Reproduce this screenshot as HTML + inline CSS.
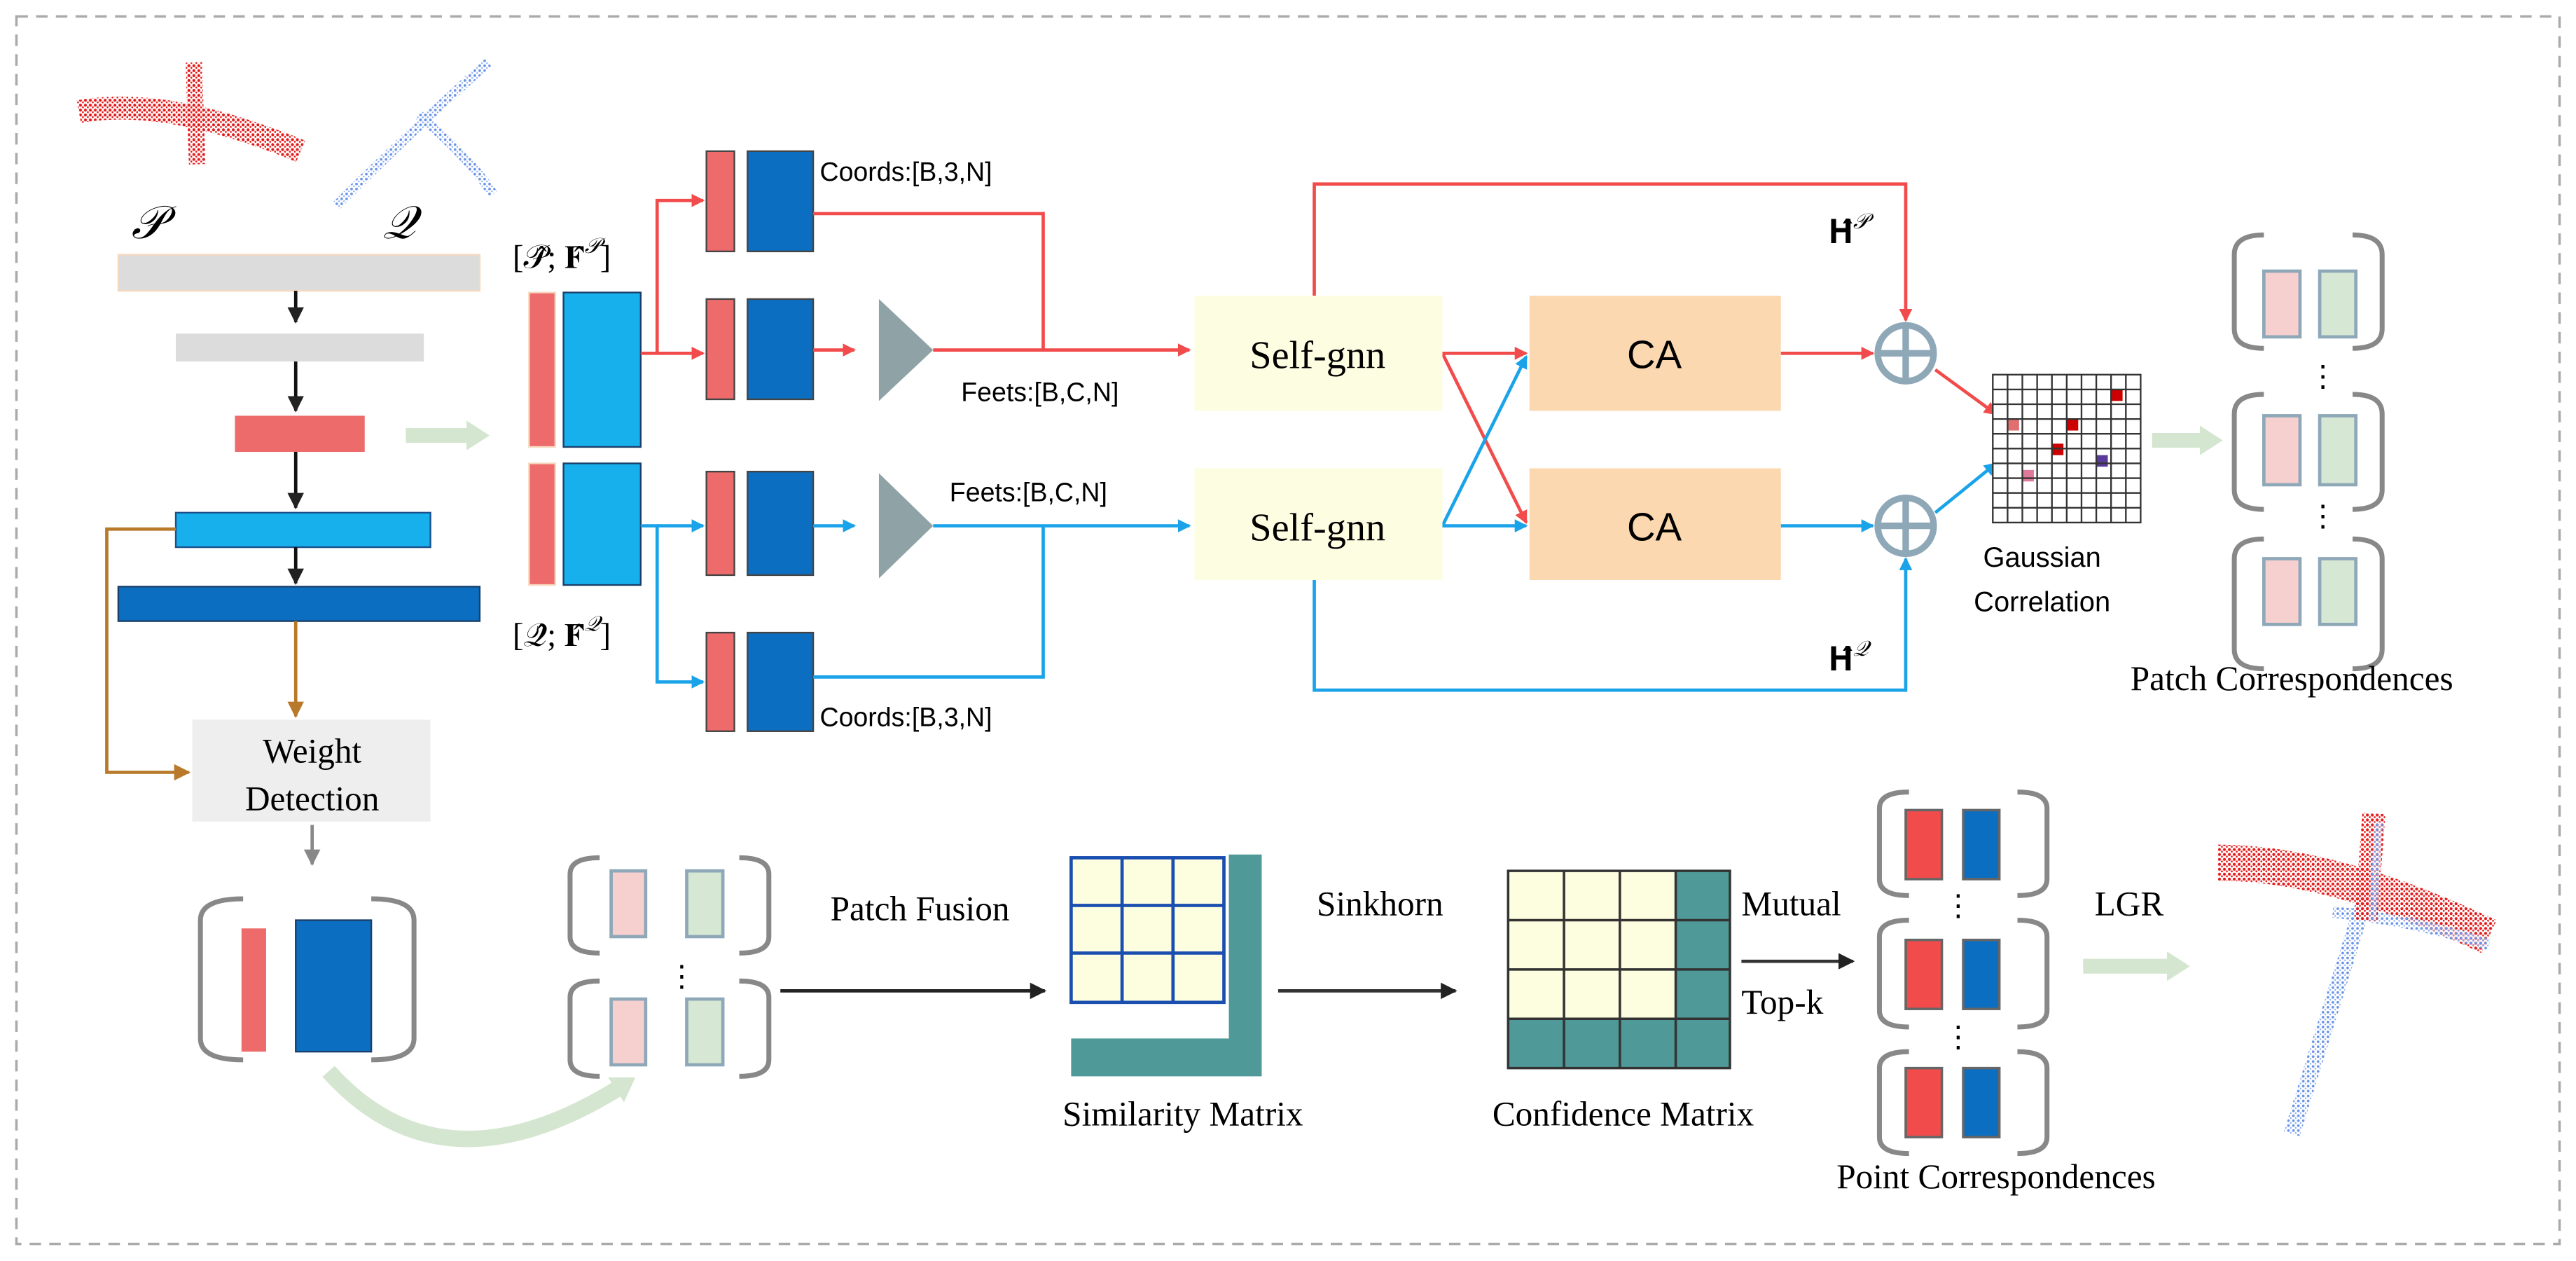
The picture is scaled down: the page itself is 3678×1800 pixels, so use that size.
<!DOCTYPE html>
<html><head><meta charset="utf-8"><style>
html,body{margin:0;padding:0;background:#fff;}
svg{display:block;}
.serif{font-family:"Liberation Serif",serif;}
.sans{font-family:"Liberation Sans",sans-serif;}
</style></head><body>
<svg width="3678" height="1800" viewBox="0 0 1568 767.4" preserveAspectRatio="none" xmlns="http://www.w3.org/2000/svg">
<defs>
<marker id="ar" markerWidth="8" markerHeight="8" refX="7" refY="4" orient="auto" markerUnits="userSpaceOnUse"><path d="M0,0 L8,4 L0,8 z" fill="#f24b4b"/></marker>
<marker id="ab" markerWidth="8" markerHeight="8" refX="7" refY="4" orient="auto" markerUnits="userSpaceOnUse"><path d="M0,0 L8,4 L0,8 z" fill="#1aa3e8"/></marker>
<marker id="ak" markerWidth="10" markerHeight="10" refX="9" refY="5" orient="auto" markerUnits="userSpaceOnUse"><path d="M0,0 L10,5 L0,10 z" fill="#222"/></marker>
<marker id="ag" markerWidth="10" markerHeight="10" refX="9" refY="5" orient="auto" markerUnits="userSpaceOnUse"><path d="M0,0 L10,5 L0,10 z" fill="#888"/></marker>
<marker id="ao" markerWidth="10" markerHeight="10" refX="9" refY="5" orient="auto" markerUnits="userSpaceOnUse"><path d="M0,0 L10,5 L0,10 z" fill="#b87a2a"/></marker>
<marker id="agr" markerWidth="14" markerHeight="18" refX="6" refY="9" orient="auto" markerUnits="userSpaceOnUse"><path d="M0,0 L14,9 L0,18 z" fill="#d4e6cf"/></marker>
<pattern id="pr" width="3" height="3" patternUnits="userSpaceOnUse"><circle cx="1" cy="1" r="0.9" fill="#e31a1a"/><circle cx="2.5" cy="2.3" r="0.6" fill="#e31a1a"/></pattern>
<pattern id="pb" width="3" height="3" patternUnits="userSpaceOnUse"><circle cx="1" cy="1" r="0.8" fill="#6a95e8"/><circle cx="2.4" cy="2.4" r="0.5" fill="#8aaaf0"/></pattern>
</defs>
<rect x="10" y="10" width="1548" height="747" fill="none" stroke="#aaa" stroke-width="1.5" stroke-dasharray="7 5"/>

<!-- point clouds -->
<g fill="none">
<path d="M48,68 Q100,58 183,92" stroke="url(#pr)" stroke-width="14"/>
<path d="M118,38 L120,100" stroke="url(#pr)" stroke-width="10"/>
<path d="M205,125 Q250,80 297,38" stroke="url(#pb)" stroke-width="6"/>
<path d="M255,70 Q285,95 300,118" stroke="url(#pb)" stroke-width="6"/>
</g>
<text x="80" y="145" class="serif" font-size="28" font-style="italic">𝒫</text>
<text x="233" y="145" class="serif" font-size="28" font-style="italic">𝒬</text>

<!-- left column -->
<rect x="72" y="155" width="220" height="22" fill="#dcdcdc" stroke="#f5d9c0"/>
<rect x="107" y="203" width="151" height="17" fill="#dcdcdc"/>
<rect x="143" y="253" width="79" height="22" fill="#ee6b6b"/>
<rect x="107" y="312" width="155" height="21" fill="#17b0ec" stroke="#1a4f8a"/>
<rect x="72" y="357" width="220" height="21" fill="#0b6ec0" stroke="#1a3f6a"/>
<g stroke="#111" stroke-width="2"><line x1="180" y1="177" x2="180" y2="196" marker-end="url(#ak)"/><line x1="180" y1="220" x2="180" y2="250" marker-end="url(#ak)"/><line x1="180" y1="275" x2="180" y2="309" marker-end="url(#ak)"/><line x1="180" y1="333" x2="180" y2="355" marker-end="url(#ak)"/></g>
<g stroke="#b87a2a" stroke-width="2" fill="none"><line x1="180" y1="378" x2="180" y2="436" marker-end="url(#ao)"/><path d="M107,322 H65 V470 H115" marker-end="url(#ao)"/></g>
<rect x="117" y="438" width="145" height="62" fill="#eeeeee"/>
<text x="190" y="464" class="serif" font-size="21" text-anchor="middle">Weight</text>
<text x="190" y="493" class="serif" font-size="21" text-anchor="middle">Detection</text>
<line x1="190" y1="502" x2="190" y2="526" stroke="#888" stroke-width="2" marker-end="url(#ag)"/>
<g fill="none" stroke="#888" stroke-width="3"><path d="M148,547 Q122,547 122,560 V632 Q122,645 148,645"/><path d="M226,547 Q252,547 252,560 V632 Q252,645 226,645"/></g>
<rect x="147" y="565" width="15" height="75" fill="#ee6b6b"/>
<rect x="180" y="560" width="46" height="80" fill="#0b6ec0" stroke="#1a3f6a"/>
<path d="M200,652 Q270,730 380,660" fill="none" stroke="#d4e6cf" stroke-width="10" marker-end="url(#agr)"/>
<line x1="247" y1="265" x2="290" y2="265" stroke="#d4e6cf" stroke-width="9" marker-end="url(#agr)"/>

<!-- features -->
<text x="312" y="163" class="serif" font-size="20">[𝒫̂; 𝐅̂<tspan font-size="13" dy="-9" font-style="italic">𝒫</tspan><tspan dy="9">]</tspan></text>
<rect x="322" y="178" width="16" height="94" fill="#ee6b6b" stroke="#f5d9c0"/>
<rect x="343" y="178" width="47" height="94" fill="#17b0ec" stroke="#1a3f6a"/>
<rect x="322" y="282" width="16" height="74" fill="#ee6b6b" stroke="#f5d9c0"/>
<rect x="343" y="282" width="47" height="74" fill="#17b0ec" stroke="#1a3f6a"/>
<text x="312" y="393" class="serif" font-size="20">[𝒬̂; 𝐅̂<tspan font-size="13" dy="-9" font-style="italic">𝒬</tspan><tspan dy="9">]</tspan></text>

<g stroke="#444"><rect x="430" y="92" width="17" height="61" fill="#ee6b6b"/><rect x="455" y="92" width="40" height="61" fill="#0b6ec0"/>
<rect x="430" y="182" width="17" height="61" fill="#ee6b6b"/><rect x="455" y="182" width="40" height="61" fill="#0b6ec0"/>
<rect x="430" y="287" width="17" height="63" fill="#ee6b6b"/><rect x="455" y="287" width="40" height="63" fill="#0b6ec0"/>
<rect x="430" y="385" width="17" height="60" fill="#ee6b6b"/><rect x="455" y="385" width="40" height="60" fill="#0b6ec0"/></g>
<polygon points="535,182 568,213 535,244" fill="#8fa3a6"/>
<polygon points="535,288 568,320 535,352" fill="#8fa3a6"/>
<g class="sans" font-size="16"><text x="499" y="110">Coords:[B,3,N]</text><text x="585" y="244">Feets:[B,C,N]</text><text x="578" y="305">Feets:[B,C,N]</text><text x="499" y="442">Coords:[B,3,N]</text></g>

<g stroke="#f24b4b" stroke-width="2" fill="none">
<path d="M390,215 H400 V122 H428" marker-end="url(#ar)"/><path d="M400,215 H428" marker-end="url(#ar)"/>
<path d="M495,213 H520" marker-end="url(#ar)"/><path d="M568,213 H724" marker-end="url(#ar)"/>
<path d="M495,130 H635 V213"/>
<path d="M878,215 H929" marker-end="url(#ar)"/><path d="M878,215 L929,318" marker-end="url(#ar)"/>
<path d="M800,180 V112 H1160 V195" marker-end="url(#ar)"/>
<path d="M1084,215 H1140" marker-end="url(#ar)"/>
<path d="M1178,225 L1215,252" marker-end="url(#ar)"/>
</g>
<g stroke="#1aa3e8" stroke-width="2" fill="none">
<path d="M390,320 H400 V415 H428" marker-end="url(#ab)"/><path d="M400,320 H428" marker-end="url(#ab)"/>
<path d="M495,320 H520" marker-end="url(#ab)"/><path d="M568,320 H724" marker-end="url(#ab)"/>
<path d="M495,412 H635 V320"/>
<path d="M878,320 H929" marker-end="url(#ab)"/><path d="M878,320 L929,217" marker-end="url(#ab)"/>
<path d="M800,353 V420 H1160 V340" marker-end="url(#ab)"/>
<path d="M1084,320 H1140" marker-end="url(#ab)"/>
<path d="M1178,312 L1215,282" marker-end="url(#ab)"/>
</g>
<rect x="727" y="180" width="151" height="70" fill="#fdfde2"/>
<rect x="727" y="285" width="151" height="68" fill="#fdfde2"/>
<text x="802" y="224" class="serif" font-size="24" text-anchor="middle">Self-gnn</text>
<text x="802" y="329" class="serif" font-size="24" text-anchor="middle">Self-gnn</text>
<rect x="931" y="180" width="153" height="70" fill="#fcd8b0"/>
<rect x="931" y="285" width="153" height="68" fill="#fcd8b0"/>
<text x="1007" y="224" class="sans" font-size="24" text-anchor="middle">CA</text>
<text x="1007" y="329" class="sans" font-size="24" text-anchor="middle">CA</text>
<text x="1113" y="148" class="serif" font-size="20">𝐇̂<tspan font-size="13" dy="-9" font-style="italic">𝒫</tspan></text>
<text x="1113" y="408" class="serif" font-size="20">𝐇̂<tspan font-size="13" dy="-9" font-style="italic">𝒬</tspan></text>
<g stroke="#8fa8b8" stroke-width="4" fill="#fff"><circle cx="1160" cy="215" r="17"/><circle cx="1160" cy="320" r="17"/></g>
<g stroke="#8fa8b8" stroke-width="4"><line x1="1143" y1="215" x2="1177" y2="215"/><line x1="1160" y1="198" x2="1160" y2="232"/><line x1="1143" y1="320" x2="1177" y2="320"/><line x1="1160" y1="303" x2="1160" y2="337"/></g>

<!-- grid -->
<g>
<rect x="1213" y="228" width="90" height="90" fill="#fff" stroke="#333"/>
<rect x="1222" y="255" width="7" height="7" fill="#e07070"/><rect x="1285" y="237" width="7" height="7" fill="#c00"/>
<rect x="1258" y="255" width="7" height="7" fill="#c00"/><rect x="1249" y="270" width="7" height="7" fill="#c00"/>
<rect x="1276" y="277" width="7" height="7" fill="#5a3a9a"/><rect x="1231" y="286" width="7" height="7" fill="#e07a9a"/>
<path d="M1222,228V318M1231,228V318M1240,228V318M1249,228V318M1258,228V318M1267,228V318M1276,228V318M1285,228V318M1294,228V318M1213,237H1303M1213,246H1303M1213,255H1303M1213,264H1303M1213,273H1303M1213,282H1303M1213,291H1303M1213,300H1303M1213,309H1303" stroke="#333" stroke-width="1"/>
</g>
<text x="1243" y="345" class="sans" font-size="17" text-anchor="middle">Gaussian</text>
<text x="1243" y="372" class="sans" font-size="17" text-anchor="middle">Correlation</text>
<line x1="1310" y1="268" x2="1345" y2="268" stroke="#d4e6cf" stroke-width="9" marker-end="url(#agr)"/>

<g fill="none" stroke="#888" stroke-width="3">
<path d="M1378,143 Q1360,143 1360,155 V200 Q1360,212 1378,212"/><path d="M1432,143 Q1450,143 1450,155 V200 Q1450,212 1432,212"/>
<path d="M1378,240 Q1360,240 1360,252 V298 Q1360,310 1378,310"/><path d="M1432,240 Q1450,240 1450,252 V298 Q1450,310 1432,310"/>
<path d="M1378,328 Q1360,328 1360,340 V395 Q1360,407 1378,407"/><path d="M1432,328 Q1450,328 1450,340 V395 Q1450,407 1432,407"/>
</g>
<g stroke="#8fa8b8" stroke-width="2">
<rect x="1378" y="165" width="22" height="40" fill="#f6cfcf"/><rect x="1412" y="165" width="22" height="40" fill="#d6e8d3"/>
<rect x="1378" y="253" width="22" height="42" fill="#f6cfcf"/><rect x="1412" y="253" width="22" height="42" fill="#d6e8d3"/>
<rect x="1378" y="340" width="22" height="40" fill="#f6cfcf"/><rect x="1412" y="340" width="22" height="40" fill="#d6e8d3"/>
</g>
<text x="1405" y="235" font-size="18" class="serif">⋮</text><text x="1405" y="320" font-size="18" class="serif">⋮</text>
<text x="1395" y="420" class="serif" font-size="21" text-anchor="middle">Patch Correspondences</text>

<!-- bottom small brackets -->
<g fill="none" stroke="#888" stroke-width="3">
<path d="M365,522 Q347,522 347,532 V570 Q347,580 365,580"/><path d="M450,522 Q468,522 468,532 V570 Q468,580 450,580"/>
<path d="M365,597 Q347,597 347,607 V645 Q347,655 365,655"/><path d="M450,597 Q468,597 468,607 V645 Q468,655 450,655"/>
</g>
<g stroke="#8fa8b8" stroke-width="2">
<rect x="372" y="530" width="21" height="40" fill="#f6cfcf"/><rect x="418" y="530" width="22" height="40" fill="#d6e8d3"/>
<rect x="372" y="608" width="21" height="40" fill="#f6cfcf"/><rect x="418" y="608" width="22" height="40" fill="#d6e8d3"/>
</g>
<text x="406" y="600" font-size="18" class="serif">⋮</text>
<text x="560" y="560" class="serif" font-size="21" text-anchor="middle">Patch Fusion</text>
<line x1="475" y1="603" x2="636" y2="603" stroke="#222" stroke-width="2" marker-end="url(#ak)"/>

<!-- similarity -->
<rect x="652" y="522" width="93" height="88" fill="#fdfde0" stroke="#1a4fb0" stroke-width="2"/>
<path d="M683,522V610M714,522V610M652,551H745M652,580H745" stroke="#1a4fb0" stroke-width="2"/>
<path d="M748,520 H768 V655 H652 V632 H748 Z" fill="#4f9a98"/>
<text x="720" y="685" class="serif" font-size="21" text-anchor="middle">Similarity Matrix</text>
<text x="840" y="557" class="serif" font-size="21" text-anchor="middle">Sinkhorn</text>
<line x1="778" y1="603" x2="886" y2="603" stroke="#333" stroke-width="2" marker-end="url(#ak)"/>

<!-- confidence -->
<rect x="918" y="530" width="135" height="120" fill="#4f9a98"/>
<rect x="918" y="530" width="102" height="90" fill="#fdfde0"/>
<path d="M918,530H1053V650H918Z M952,530V650M986,530V650M1020,530V650M918,560H1053M918,590H1053M918,620H1053" fill="none" stroke="#333" stroke-width="1.5"/>
<text x="988" y="685" class="serif" font-size="21" text-anchor="middle">Confidence Matrix</text>
<text x="1060" y="557" class="serif" font-size="21">Mutual</text>
<line x1="1060" y1="585" x2="1128" y2="585" stroke="#333" stroke-width="2" marker-end="url(#ak)"/>
<text x="1060" y="617" class="serif" font-size="21">Top-k</text>

<!-- point corr -->
<g fill="none" stroke="#888" stroke-width="3">
<path d="M1162,482 Q1144,482 1144,492 V535 Q1144,545 1162,545"/><path d="M1228,482 Q1246,482 1246,492 V535 Q1246,545 1228,545"/>
<path d="M1162,560 Q1144,560 1144,570 V615 Q1144,625 1162,625"/><path d="M1228,560 Q1246,560 1246,570 V615 Q1246,625 1228,625"/>
<path d="M1162,640 Q1144,640 1144,650 V692 Q1144,702 1162,702"/><path d="M1228,640 Q1246,640 1246,650 V692 Q1246,702 1228,702"/>
</g>
<g stroke="#666" stroke-width="1.5">
<rect x="1160" y="493" width="22" height="42" fill="#f24b4b"/><rect x="1195" y="493" width="22" height="42" fill="#0b6ec0"/>
<rect x="1160" y="572" width="22" height="42" fill="#f24b4b"/><rect x="1195" y="572" width="22" height="42" fill="#0b6ec0"/>
<rect x="1160" y="650" width="22" height="42" fill="#f24b4b"/><rect x="1195" y="650" width="22" height="42" fill="#0b6ec0"/>
</g>
<text x="1183" y="557" font-size="18" class="serif">⋮</text><text x="1183" y="637" font-size="18" class="serif">⋮</text>
<text x="1215" y="723" class="serif" font-size="21" text-anchor="middle">Point Correspondences</text>
<text x="1275" y="557" class="serif" font-size="21">LGR</text>
<line x1="1268" y1="588" x2="1325" y2="588" stroke="#d4e6cf" stroke-width="9" marker-end="url(#agr)"/>

<!-- final cloud -->
<g fill="none">
<path d="M1440,545 Q1420,610 1395,690" stroke="url(#pb)" stroke-width="10"/>
<path d="M1350,525 Q1420,525 1515,570" stroke="url(#pr)" stroke-width="22"/>
<path d="M1420,555 Q1470,560 1515,575" stroke="url(#pb)" stroke-width="7"/>
<path d="M1445,495 L1440,560" stroke="url(#pr)" stroke-width="14"/>
<path d="M1448,500 L1444,560" stroke="url(#pb)" stroke-width="5"/>
</g>
</svg>
</body></html>
